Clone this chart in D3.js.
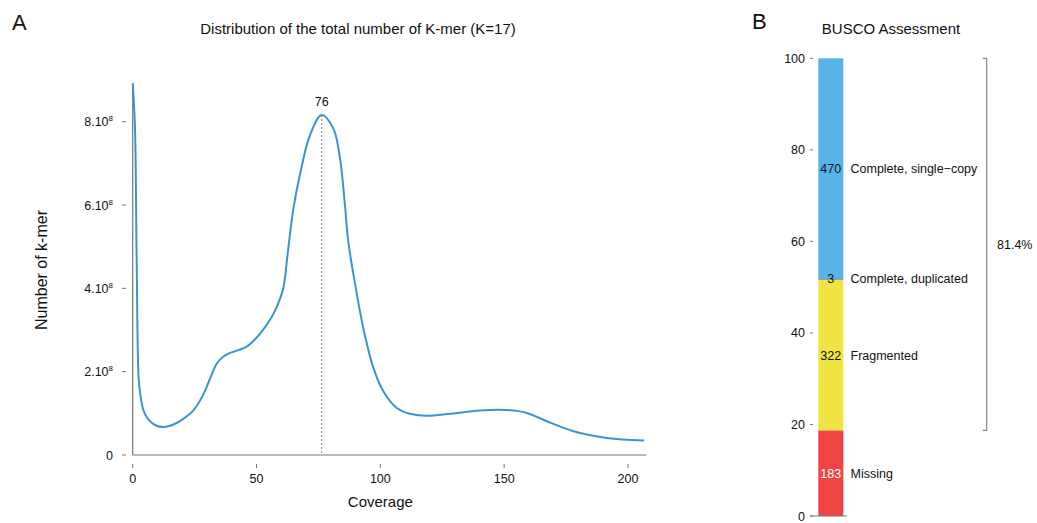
<!DOCTYPE html>
<html>
<head>
<meta charset="utf-8">
<script src="https://cdn.jsdelivr.net/npm/d3@7"></script>
<style>
  body { margin: 0; background: #fff; }
  svg text { font-family: "Liberation Sans", Arial, Helvetica, sans-serif; fill: #111; }
</style>
</head>
<body>
<div id="container"></div>
<script>
// k-mer distribution (coverage, count in units of 1e8)
const coverage = [0, 0.9, 1.6, 2.4, 3.2, 4.3, 6, 9, 12.4, 16, 20, 24.5, 28.5, 31, 33.9, 36.5, 39.3, 46, 51.4, 56, 58.5, 60.8, 62.5, 64.9, 67.6, 71.6, 76.3, 81, 83.7, 85.7, 87, 89.8, 93.1, 97.2, 101.2, 106.6, 112, 118.7, 128.2, 140.3, 151, 159.1, 167.2, 178, 191.4, 206.5];
const kmerCount = [8.92, 7.9, 4.7, 1.85, 1.4, 1.08, 0.88, 0.72, 0.67, 0.72, 0.85, 1.07, 1.45, 1.8, 2.19, 2.36, 2.45, 2.6, 2.91, 3.3, 3.6, 4.0, 4.8, 5.92, 6.75, 7.68, 8.16, 7.84, 7.12, 6.0, 5.15, 4.1, 3.05, 2.09, 1.53, 1.13, 0.99, 0.94, 0.99, 1.07, 1.08, 1.01, 0.81, 0.57, 0.41, 0.35];
const peakCoverage = 76;
const xTicks = [0, 50, 100, 150, 200];
const yTicks = [0, 2, 4, 6, 8];

// BUSCO
const buscoCategories = ["Missing", "Fragmented", "Complete, duplicated", "Complete, single\u2212copy"];
const buscoCounts = [183, 322, 3, 470];
const buscoColors = ["#ef4442", "#f0e442", "#3d86b8", "#56b4e9"];
const buscoTextColors = ["#fff", "#111", "#111", "#111"];
const buscoTicks = [0, 20, 40, 60, 80, 100];
const completeLabel = "81.4%";

const svg = d3.select("#container").append("svg")
  .attr("width", 1037).attr("height", 523);

// ---------- Panel A ----------
const x = d3.scaleLinear().domain([0, 200]).range([132.7, 628]);
const y = d3.scaleLinear().domain([0, 8]).range([455, 121.7]);
const xMax = 207.4;
const yMax = d3.max(kmerCount);

svg.append("text").attr("x", 12).attr("y", 30).style("font-size", "22px").text("A");
svg.append("text").attr("x", 358).attr("y", 34).attr("text-anchor", "middle")
  .style("font-size", "15px").text("Distribution of the total number of K-mer (K=17)");

const axisColor = "#777";
svg.append("line").attr("x1", x(0)).attr("x2", x(0)).attr("y1", y(0)).attr("y2", y(yMax))
  .attr("stroke", axisColor).attr("stroke-width", 1.2);
svg.append("line").attr("x1", x(0)).attr("x2", x(xMax)).attr("y1", y(0)).attr("y2", y(0))
  .attr("stroke", axisColor).attr("stroke-width", 1.2);

// y ticks (detached, short)
const yt = svg.append("g").selectAll("g").data(yTicks).enter().append("g");
yt.append("line").attr("x1", 122).attr("x2", 126).attr("y1", d => y(d)).attr("y2", d => y(d))
  .attr("stroke", axisColor);
const ytl = yt.append("text").attr("x", 113).attr("y", d => y(d) + 4.5)
  .attr("text-anchor", "end").style("font-size", "12.5px");
ytl.each(function(d) {
  const t = d3.select(this);
  if (d === 0) { t.text("0"); return; }
  t.append("tspan").text(d + ".10");
  t.append("tspan").attr("dy", -5).style("font-size", "8px").text("8");
});

// x ticks
const xt = svg.append("g").selectAll("g").data(xTicks).enter().append("g");
xt.append("line").attr("x1", d => x(d)).attr("x2", d => x(d)).attr("y1", 464).attr("y2", 468)
  .attr("stroke", axisColor);
xt.append("text").attr("x", d => x(d)).attr("y", 483).attr("text-anchor", "middle")
  .style("font-size", "12.5px").text(d => d);

svg.append("text").attr("x", x(100)).attr("y", 507).attr("text-anchor", "middle")
  .style("font-size", "15px").text("Coverage");
svg.append("text").attr("transform", "translate(47,270) rotate(-90)").attr("text-anchor", "middle")
  .style("font-size", "16px").text("Number of k-mer");

// peak marker
const peakVal = kmerCount[coverage.indexOf(76.3)];
svg.append("line").attr("x1", x(peakCoverage + 0.3)).attr("x2", x(peakCoverage + 0.3))
  .attr("y1", y(peakVal)).attr("y2", y(0))
  .attr("stroke", "#888").attr("stroke-width", 1).attr("stroke-dasharray", "2,2");
svg.append("text").attr("x", x(peakCoverage + 0.3)).attr("y", y(peakVal) - 9)
  .attr("text-anchor", "middle").style("font-size", "12.5px").text(peakCoverage);

const line = d3.line().x((d, i) => x(coverage[i])).y(d => y(d)).curve(d3.curveCatmullRom.alpha(0.5));
svg.append("path").datum(kmerCount).attr("d", line)
  .attr("fill", "none").attr("stroke", "#3a95cf").attr("stroke-width", 2);

// ---------- Panel B ----------
const total = d3.sum(buscoCounts);
const yb = d3.scaleLinear().domain([0, 100]).range([516, 58.3]);
const barX = 818.3, barW = 25;

svg.append("text").attr("x", 752).attr("y", 29).style("font-size", "22px").text("B");
svg.append("text").attr("x", 891).attr("y", 34).attr("text-anchor", "middle")
  .style("font-size", "15px").text("BUSCO Assessment");

let cum = 0;
const segs = buscoCounts.map((c, i) => {
  const s = { i, start: cum, end: cum + c / total * 100, count: c };
  cum = s.end;
  return s;
});

svg.append("g").selectAll("rect").data(segs).enter().append("rect")
  .attr("x", barX).attr("width", barW)
  .attr("y", d => yb(d.end)).attr("height", d => yb(d.start) - yb(d.end))
  .attr("fill", d => buscoColors[d.i]);

svg.append("g").selectAll("text").data(segs).enter().append("text")
  .attr("x", barX + barW / 2).attr("y", d => yb((d.start + d.end) / 2) + 4.5)
  .attr("text-anchor", "middle").style("font-size", "12.5px")
  .style("fill", d => buscoTextColors[d.i]).text(d => d.count);

svg.append("g").selectAll("text").data(segs).enter().append("text")
  .attr("x", 850.5).attr("y", d => yb((d.start + d.end) / 2) + 4.5)
  .style("font-size", "12.5px").text(d => buscoCategories[d.i]);

const bt = svg.append("g").selectAll("g").data(buscoTicks).enter().append("g");
bt.append("line").attr("x1", 810).attr("x2", 813).attr("y1", d => yb(d)).attr("y2", d => yb(d))
  .attr("stroke", axisColor);
bt.append("text").attr("x", 805).attr("y", d => yb(d) + 4.5).attr("text-anchor", "end")
  .style("font-size", "12.5px").text(d => d);
svg.append("line").attr("x1", 810).attr("x2", 847).attr("y1", yb(0)).attr("y2", yb(0))
  .attr("stroke", axisColor).attr("stroke-width", 1.2);

// bracket for complete + fragmented
const bracketX = 986.7;
const bTop = yb(100), bBot = yb(segs[0].end);
svg.append("path")
  .attr("d", `M${bracketX - 4},${bTop}H${bracketX}V${bBot}H${bracketX - 4}`)
  .attr("fill", "none").attr("stroke", "#888").attr("stroke-width", 1.2);
svg.append("text").attr("x", 997).attr("y", (bTop + bBot) / 2 + 4.5)
  .style("font-size", "12.5px").text(completeLabel);
</script>
</body>
</html>
